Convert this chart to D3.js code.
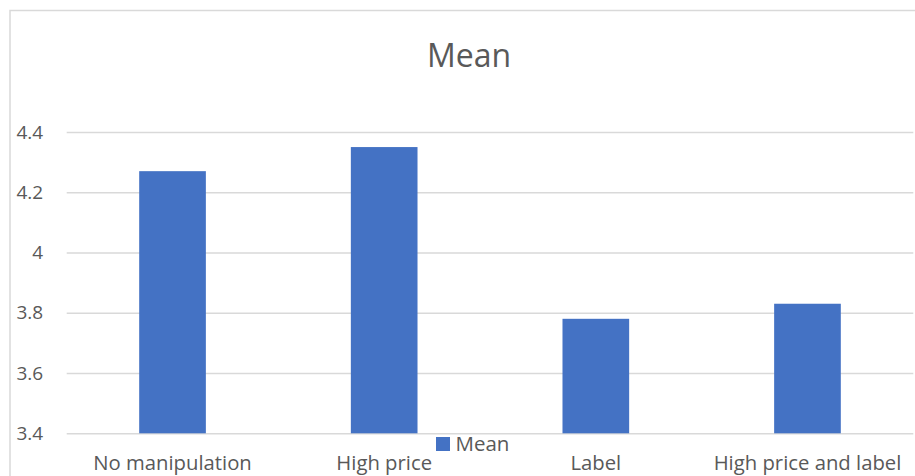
<!DOCTYPE html>
<html><head><meta charset="utf-8">
<script src="https://cdn.jsdelivr.net/npm/d3@7"></script>
<style>
html,body{margin:0;padding:0;background:#fff;overflow:hidden;}
svg{display:block;font-family:"Open Sans",sans-serif;}
</style></head>
<body><svg id="c" width="915" height="476"></svg>
<script>
const categories = ["No manipulation", "High price", "Label", "High price and label"];
const meanValues = [4.27, 4.35, 3.78, 3.83];
const yTicks = [3.4, 3.6, 3.8, 4.0, 4.2, 4.4];
const seriesName = "Mean";
const titleText = "Mean";

const svg = d3.select("#c");
const textColor = "#595959";
const gridColor = "#d9d9d9";
const barColor = "#4472c4";

// chart frame
svg.append("rect").attr("x", 10).attr("y", 10.5).attr("width", 930).attr("height", 520)
  .attr("fill", "none").attr("stroke", gridColor).attr("stroke-width", 1.5);

const x = d3.scaleBand().domain(categories).range([66.7, 913.3]).paddingInner(0.685).paddingOuter(0.3425);
const y = d3.scaleLinear().domain([3.4, 4.4]).range([433.3, 132]);

// gridlines
const yAxis = d3.axisLeft(y).tickValues(yTicks).tickSize(-(913.3 - 66.7)).tickPadding(23.5)
  .tickFormat(d => d3.format("~g")(d));
const gy = svg.append("g").attr("transform", "translate(66.7,0)").call(yAxis);
gy.select(".domain").remove();
gy.selectAll(".tick line").attr("stroke", gridColor).attr("stroke-width", 1.5);
gy.selectAll(".tick text").attr("fill", textColor).attr("font-size", 19).attr("font-family", "Open Sans");

// bars
svg.append("g").selectAll("rect").data(categories).join("rect")
  .attr("x", d => x(d)).attr("width", x.bandwidth())
  .attr("y", (d, i) => y(meanValues[i])).attr("height", (d, i) => y(3.4) - y(meanValues[i]))
  .attr("fill", barColor);

// x axis labels
const xAxis = d3.axisBottom(x).tickSize(0).tickPadding(0);
const gx = svg.append("g").attr("transform", "translate(0,433.3)").call(xAxis);
gx.select(".domain").remove();
gx.selectAll(".tick text").attr("fill", textColor).attr("font-size", 20.3)
  .attr("font-family", "Open Sans").attr("dy", null).attr("y", 37);

// title
svg.append("text").attr("x", 469).attr("y", 66.5).attr("text-anchor", "middle")
  .attr("fill", textColor).attr("font-size", 32).text(titleText);

// legend
svg.append("rect").attr("x", 436).attr("y", 437).attr("width", 14).attr("height", 14).attr("fill", barColor);
svg.append("text").attr("x", 455.5).attr("y", 451).attr("fill", textColor).attr("font-size", 20.5).text(seriesName);
</script></body></html>
